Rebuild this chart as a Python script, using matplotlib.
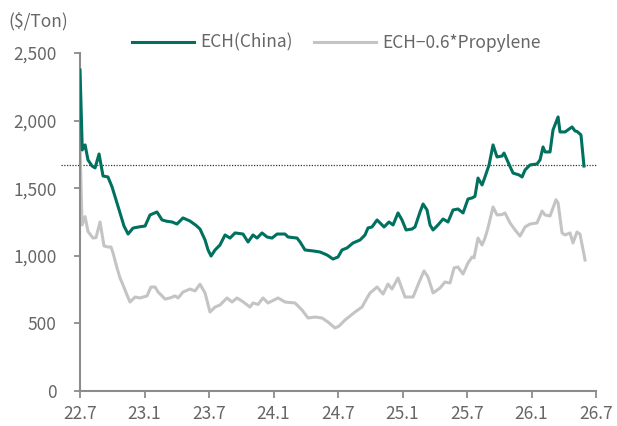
import matplotlib
matplotlib.use("Agg")
import matplotlib.pyplot as plt

plt.rcParams['font.family'] = ['Noto Sans CJK KR', 'DejaVu Sans']

# months counted from 2022-07
ech_month = [0.00, 0.21, 0.47, 0.74, 1.12, 1.40, 1.77, 2.14, 2.60, 2.98, 3.44, 3.72,
             4.09, 4.47, 4.93, 5.58, 6.05, 6.51, 7.16, 7.63, 8.09, 8.56, 9.02, 9.58,
             10.23, 10.79, 11.16, 11.63, 11.91, 12.19, 12.56, 13.02, 13.49, 13.95, 14.42,
             15.16, 15.63, 16.09, 16.47, 16.93, 17.40, 17.86, 18.33, 19.07, 19.35, 20.19,
             20.47, 20.93, 21.67, 22.33, 22.98, 23.53, 24.00, 24.37, 24.84, 25.40, 26.05,
             26.51, 26.79, 27.16, 27.63, 27.91, 28.28, 28.74, 29.12, 29.58, 29.95, 30.33,
             30.88, 31.16, 31.63, 31.91, 32.28, 32.56, 32.84, 33.30, 33.77, 34.23, 34.70,
             35.16, 35.63, 36.09, 36.47, 36.74, 37.02, 37.40, 37.67, 38.05, 38.42, 38.79,
             39.26, 39.44, 39.81, 40.28, 40.84, 41.12, 41.40, 41.86, 42.51, 42.79, 43.07,
             43.26, 43.72, 44.00, 44.47, 44.65, 45.12, 45.77, 46.05, 46.23, 46.60, 46.88]
ech_china = [2374, 1783, 1820, 1709, 1664, 1650, 1753, 1590, 1583, 1509, 1390, 1317,
             1220, 1161, 1205, 1215, 1220, 1302, 1324, 1265, 1255, 1250, 1235, 1280,
             1257, 1225, 1198, 1117, 1043, 998, 1043, 1080, 1154, 1131, 1169,
             1161, 1102, 1154, 1131, 1169, 1139, 1131, 1161, 1161, 1139, 1131,
             1102, 1043, 1036, 1028, 1006, 976, 991, 1043, 1058, 1095, 1117,
             1154, 1206, 1213, 1265, 1243, 1213, 1250, 1228, 1317, 1265, 1191,
             1198, 1213, 1324, 1383, 1339, 1228, 1191, 1228, 1272, 1250, 1339,
             1346, 1317, 1420, 1428, 1440, 1575, 1524, 1583, 1672, 1820, 1731,
             1738, 1760, 1694, 1612, 1598, 1583, 1635, 1672, 1679, 1709, 1805,
             1768, 1768, 1931, 2027, 1916, 1916, 1953, 1923, 1920, 1894, 1664]

spread_month = [0.00, 0.19, 0.47, 0.74, 1.21, 1.49, 1.86, 2.23, 2.60, 2.88, 3.07, 3.44,
                3.72, 4.00, 4.37, 4.65, 5.12, 5.58, 6.23, 6.60, 6.98, 7.26, 7.63, 7.91,
                8.37, 8.84, 9.12, 9.58, 10.23, 10.70, 11.16, 11.63, 12.09, 12.56, 13.02,
                13.67, 14.14, 14.60, 15.16, 15.81, 16.09, 16.56, 17.02, 17.49, 18.42,
                19.07, 20.00, 20.65, 21.21, 21.86, 22.51, 23.07, 23.72, 24.09, 24.65,
                25.58, 26.23, 26.70, 26.98, 27.63, 28.19, 28.65, 29.02, 29.58, 30.23,
                30.98, 31.63, 32.00, 32.37, 32.84, 33.49, 33.95, 34.42, 34.79, 35.16,
                35.63, 36.09, 36.47, 36.65, 37.02, 37.40, 37.67, 37.95, 38.42, 38.79,
                39.26, 39.53, 40.00, 40.47, 40.93, 41.40, 41.86, 42.51, 42.98, 43.26,
                43.72, 44.28, 44.47, 44.84, 45.12, 45.58, 45.86, 46.23, 46.51, 46.98]
ech_spread = [1805, 1228, 1290, 1180, 1131, 1135, 1250, 1073, 1065, 1065, 1021, 910,
              836, 784, 710, 658, 695, 688, 703, 769, 769, 732, 703, 680,
              688, 703, 688, 732, 754, 740, 790, 725, 584, 621, 636,
              688, 658, 688, 660, 621, 651, 640, 688, 651, 688,
              658, 651, 599, 540, 547, 540, 510, 466, 480, 525,
              584, 621, 688, 725, 769, 717, 791, 754, 836, 695,
              695, 821, 888, 843, 725, 762, 806, 799, 910, 917,
              865, 947, 991, 985, 1131, 1080, 1131, 1206, 1361, 1302,
              1305, 1317, 1243, 1191, 1146, 1213, 1235, 1243, 1331, 1302,
              1294, 1415, 1390, 1169, 1154, 1169, 1095, 1176, 1160, 969]

ref_level = 1670
tick_pos = [0, 6, 12, 18, 24, 30, 36, 42, 48]
tick_labels = ['22.7', '23.1', '23.7', '24.1', '24.7', '25.1', '25.7', '26.1', '26.7']

text_color = '#666666'
axis_color = '#8c8c8c'

fig = plt.figure(figsize=(6.17, 4.26), dpi=100)
ax = fig.add_axes([0.1297, 0.0822, 0.8363, 0.7934])

ax.plot(spread_month, ech_spread, color='#c4c4c4', lw=2.2, label='ECH−0.6*Propylene', zorder=2)
ax.plot(ech_month, ech_china, color='#00705f', lw=2.2, label='ECH(China)', zorder=3)
ax.plot([-1.77, 48.1], [ref_level, ref_level], color='#333333', lw=0.9,
        ls=(0, (1, 1.2)), clip_on=False, zorder=1)

ax.set_xlim(0, 48)
ax.set_ylim(0, 2500)
ax.set_xticks(tick_pos)
ax.set_xticklabels(tick_labels)
ax.set_yticks([0, 500, 1000, 1500, 2000, 2500])
ax.set_yticklabels(['0', '500', '1,000', '1,500', '2,000', '2,500'])

for side in ['top', 'right']:
    ax.spines[side].set_visible(False)
for side in ['left', 'bottom']:
    ax.spines[side].set_color(axis_color)
    ax.spines[side].set_linewidth(1.5)

ax.tick_params(axis='x', colors=axis_color, length=5, width=1.3, pad=5,
               labelsize=12.5, labelcolor=text_color)
ax.tick_params(axis='y', colors=axis_color, length=4, width=1.3, pad=13,
               labelsize=12.5, labelcolor=text_color)

fig.text(0.013, 0.95, '($/Ton)', fontsize=12.5, color=text_color, va='center', ha='left')

handles, labels = ax.get_legend_handles_labels()
leg = fig.legend(handles[::-1], labels[::-1], loc='center', bbox_to_anchor=(0.545, 0.9),
                 ncol=2, frameon=False, fontsize=12.5, handlelength=3.6,
                 columnspacing=1.2, handletextpad=0.35)
for t in leg.get_texts():
    t.set_color(text_color)

fig.savefig('out.png', dpi=100)
